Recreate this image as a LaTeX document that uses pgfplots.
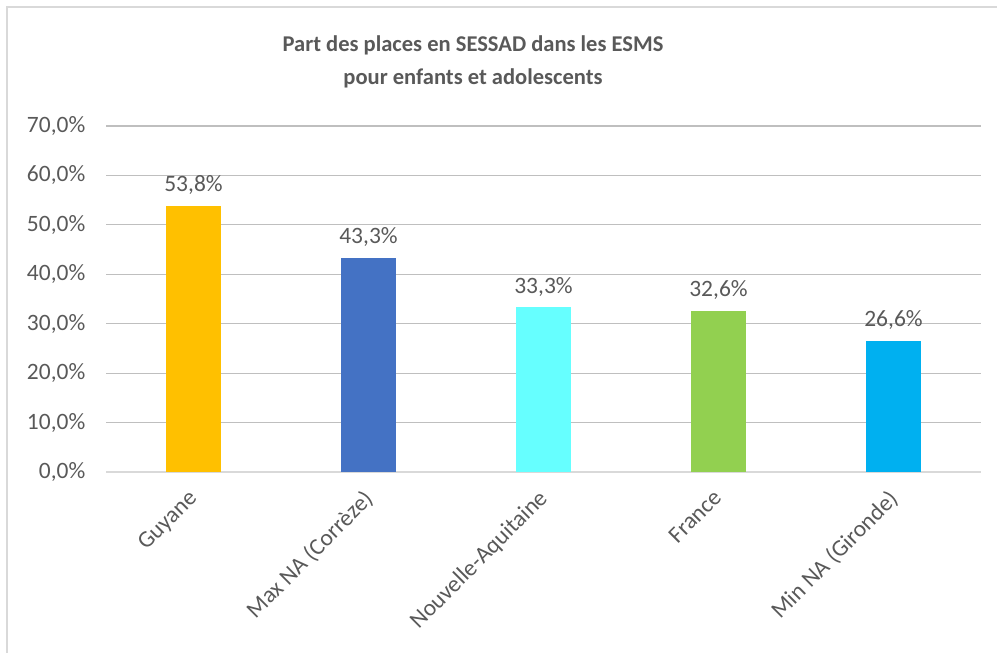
\documentclass[border=0pt]{standalone}
\usepackage{pgfplots}
\pgfplotsset{compat=1.18}
\usepackage{fontspec}
\setmainfont{Carlito}
\definecolor{txt}{HTML}{595959}
\definecolor{grid}{HTML}{D9D9D9}
\definecolor{c1}{HTML}{FFC000}
\definecolor{c2}{HTML}{4472C4}
\definecolor{c3}{HTML}{66FFFF}
\definecolor{c4}{HTML}{92D050}
\definecolor{c5}{HTML}{00B0F0}
\begin{document}
\begin{tikzpicture}
\path[use as bounding box] (0pt,0pt) rectangle (747.75pt,-489.75pt);
\draw[grid, line width=1.5pt] (5.25pt,-489.75pt) -- (5.25pt,-5.25pt) -- (747.75pt,-5.25pt);
\node[txt, font=\fontsize{16.9}{24.5}\selectfont\bfseries, align=center] at (354.75pt,-46.5pt) {Part des places en SESSAD dans les ESMS\\pour enfants et adolescents};
\begin{axis}[
  at={(79.5pt,-354pt)}, anchor=south west,
  scale only axis, width=656.25pt, height=259.5pt,
  xmin=-0.5, xmax=4.5, ymin=0, ymax=70,
  ytick={0,10,...,70},
  xtick={0,1,2,3,4},
  xticklabels={Guyane, Max NA (Corrèze), Nouvelle-Aquitaine, France, Min NA (Gironde)},
  /pgf/number format/assume math mode=true,
  yticklabel={\pgfmathprintnumber[fixed,fixed zerofill,precision=1,use comma]{\tick}\%},
  xmajorgrids=false, ymajorgrids=true, grid style={grid, line width=0.9pt},
  axis x line*=bottom, axis y line*=left,
  x axis line style={grid, line width=1.3pt, -},
  y axis line style={draw=none},
  major tick length=0pt,
  tick label style={txt, font=\fontsize{17.6}{21}\selectfont},
  yticklabel style={anchor=east, xshift=-12pt},
  xticklabel style={rotate=45, anchor=north east, yshift=-1.7pt, xshift=-8.6pt},
  ybar, bar width=41.25pt, bar shift=0pt,
  nodes near coords={\pgfmathprintnumber[fixed,fixed zerofill,precision=1,use comma]{\pgfplotspointmeta}\%},
  nodes near coords style={txt, font=\fontsize{17.6}{21}\selectfont, yshift=5pt},
  clip=false,
]
\addplot[draw=none, fill=c1] coordinates {(0,53.8)};
\addplot[draw=none, fill=c2] coordinates {(1,43.3)};
\addplot[draw=none, fill=c3] coordinates {(2,33.3)};
\addplot[draw=none, fill=c4] coordinates {(3,32.6)};
\addplot[draw=none, fill=c5] coordinates {(4,26.6)};
\end{axis}
\end{tikzpicture}
\end{document}
